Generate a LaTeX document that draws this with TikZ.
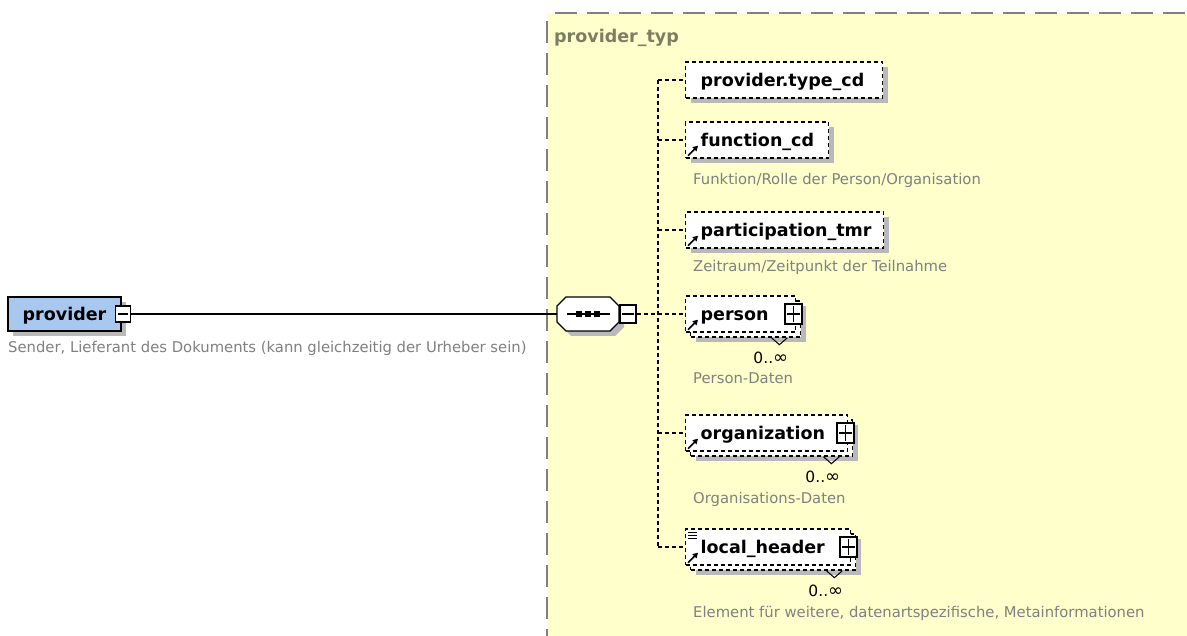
\documentclass[tikz,border=0pt]{standalone}
\usepackage{fontspec}
\setmainfont{DejaVu Sans}
\usetikzlibrary{shadows,arrows.meta}

\definecolor{typefill}{RGB}{255,255,204}
\definecolor{edgegray}{RGB}{128,128,128}
\definecolor{notegray}{RGB}{128,128,128}
\definecolor{typegray}{RGB}{125,125,100}
\definecolor{shadowgray}{RGB}{185,185,185}
\definecolor{rootblue}{RGB}{168,200,240}

\newcommand\elemfont{\fontsize{17.5}{20}\selectfont\bfseries}
\newcommand\notefont{\fontsize{14.8}{17}\selectfont}
\newcommand\occfont{\fontsize{15.5}{17}\selectfont}
\newcommand\unbounded{{\fontsize{18}{18}\selectfont ∞}}

\tikzset{
  wire/.style={line width=1.4pt},
  conn/.style={line width=1.3pt, dash pattern=on 4pt off 3pt},
  boxshadow/.style={general shadow={fill=shadowgray, shadow xshift=5pt, shadow yshift=-5pt}},
  elem/.style={draw, line width=1.4pt, dash pattern=on 4pt off 3pt, fill=white,
    anchor=west, inner xsep=15pt, inner ysep=0pt, minimum height=36pt,
    text height=12.5pt, text depth=0pt, align=left, font=\elemfont},
  rootbox/.style={draw, line width=1.4pt, fill=rootblue, boxshadow,
    minimum width=113pt, minimum height=34pt, inner sep=0pt,
    text height=12.5pt, text depth=0pt, font=\elemfont},
  togglebox/.style={draw, line width=1.2pt, fill=white, inner sep=0pt,
    minimum width=16pt, minimum height=18pt},
  note/.style={anchor=base west, inner sep=0pt, text=notegray, font=\notefont},
  occ/.style={anchor=base east, inner sep=0pt, font=\occfont},
  refarrow/.style={line width=1.7pt, -{Triangle[length=5pt,width=5.5pt]}},
}

\begin{document}
\begin{tikzpicture}[x=1pt,y=-1pt]
\useasboundingbox (0,0) rectangle (1187,636);
\fill[white] (0,0) rectangle (1187,636);

% complex type area
\fill[typefill] (547,13) rectangle (1187,636);
\draw[edgegray, line width=1.5pt, dash pattern=on 22pt off 10pt] (555,13) -- (1187,13);
\draw[edgegray, line width=1.5pt, dash pattern=on 22pt off 10pt] (547,21) -- (547,636);
\node[anchor=base west, inner sep=0pt, text=typegray, font=\elemfont] (typname) at (554,43) {provider\_typ};

% root element
\node[rootbox] (provider) at (64.5,314) {provider};
\node[togglebox, minimum width=15pt, minimum height=16pt] (provm) at (123,314) {};
\draw[line width=1.2pt] ([xshift=3]provm.west) -- ([xshift=-3]provm.east);
\node[note] (provnote) at (8,353) {Sender, Lieferant des Dokuments (kann gleichzeitig der Urheber sein)};

% sequence compositor
\node[minimum width=62pt, minimum height=34pt, inner sep=0pt] (seq) at (588,314) {};
\begin{scope}[shift={(seq.center)}]
  \fill[shadowgray] (-26,-3) -- (-17,-12) -- (27,-12) -- (36,-3) -- (36,13) -- (27,22) -- (-17,22) -- (-26,13) -- cycle;
  \draw[line width=1.3pt, fill=white] (-31,-8) -- (-22,-17) -- (22,-17) -- (31,-8) -- (31,8) -- (22,17) -- (-22,17) -- (-31,8) -- cycle;
  \draw[line width=1.3pt] (-21,0) -- (22,0);
  \foreach \q in {-9,0,9} \fill (\q-2.8,-2.8) rectangle (\q+2.8,2.8);
\end{scope}
\node[togglebox] (seqm) at (628,314) {};
\draw[line width=1.2pt] ([xshift=3]seqm.west) -- ([xshift=-3]seqm.east);

\draw[wire] (provm.east) -- (seq.west);

% child elements
\node[elem, boxshadow, text width=167pt] (tcd) at (685,80) {provider.type\_cd};
\node[elem, boxshadow, text width=113pt] (fcd) at (685,140) {function\_cd};
\node[elem, boxshadow, text width=168pt] (ptmr) at (685,230) {participation\_tmr};

\node[elem, boxshadow, text width=80pt] (personb) at (690,319) {};
\node[elem, text width=80pt] (person) at (685,314) {person};
\node[elem, boxshadow, text width=132pt] (orgb) at (690,438) {};
\node[elem, text width=132pt] (org) at (685,433) {organization};
\node[elem, boxshadow, text width=135pt] (lhb) at (690,552) {};
\node[elem, text width=135pt] (lh) at (685,547) {local\_header};

% expand buttons
\foreach \e in {person,org,lh} {
  \node[togglebox, minimum width=17pt, minimum height=20pt] (\e-plus) at ([xshift=-3]\e.east) {};
  \draw[line width=1.2pt] ([xshift=3]\e-plus.west) -- ([xshift=-3]\e-plus.east)
                          ([yshift=-3]\e-plus.north) -- ([yshift=3]\e-plus.south);
}

% occurrence marks
\foreach \e in {personb,orgb,lhb} {
  \draw[line width=1pt] ([xshift=-30]\e.south east) -- ++(8,7) -- ++(8,-7);
  \node[occ] (\e-occ) at ([xshift=-13,yshift=-26]\e.south east) {0..\unbounded};
}

% reference arrows
\foreach \e in {fcd,ptmr,person,org,lh}
  \draw[refarrow] ([xshift=3,yshift=3]\e.south west) -- ++(10,-10);

% list icon
\foreach \d in {4,7,10}
  \draw[line width=1pt] ([xshift=3,yshift=-\d]lh.north west) -- ++(9,0);

% documentation
\node[note] (fcdnote) at (693,185) {Funktion/Rolle der Person/Organisation};
\node[note] (ptmrnote) at (693,272) {Zeitraum/Zeitpunkt der Teilnahme};
\node[note] (personnote) at (693,384) {Person-Daten};
\node[note] (orgnote) at (693,503) {Organisations-Daten};
\node[note] (lhnote) at (693,617) {Element für weitere, datenartspezifische, Metainformationen};

% sequence connectors
\coordinate (j1) at (658,80);
\coordinate (j2) at (658,140);
\coordinate (j3) at (658,230);
\coordinate (j4) at (658,314);
\coordinate (j5) at (658,433);
\coordinate (j6) at (658,547);
\draw[conn] (j1) -- (j6);
\draw[conn] (seqm.east) -- (j4);
\draw[conn] (j1) -- (tcd.west);
\draw[conn] (j2) -- (fcd.west);
\draw[conn] (j3) -- (ptmr.west);
\draw[conn] (j4) -- (person.west);
\draw[conn] (j5) -- (org.west);
\draw[conn] (j6) -- (lh.west);
\end{tikzpicture}
\end{document}
